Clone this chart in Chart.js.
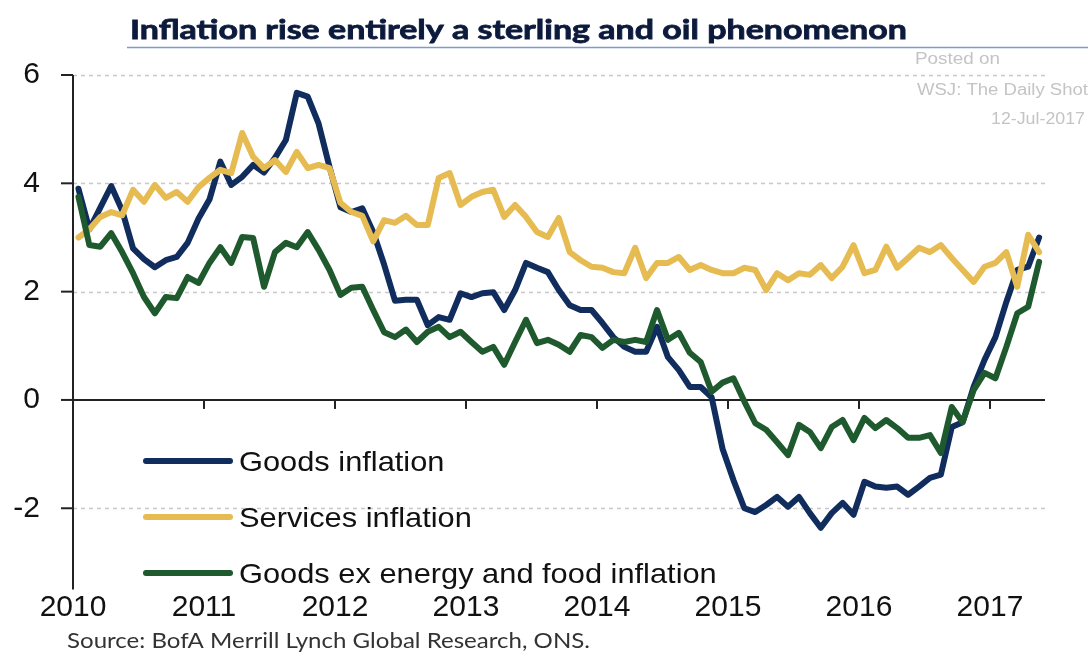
<!DOCTYPE html>
<html>
<head>
<meta charset="utf-8">
<script src="https://cdn.jsdelivr.net/npm/chart.js@4.4.0/dist/chart.umd.min.js"></script>
<style>
  html, body { margin: 0; padding: 0; background: #fff; }
  #wrap { position: relative; width: 1088px; height: 653px; }
</style>
</head>
<body>
<div id="wrap"><canvas id="chart"></canvas></div>
<script>
// UK CPI components, % y/y, monthly from Jan 2010 to May 2017
const startYear = 2010;

const goods = [
  3.9, 3.15, 3.55, 3.95, 3.5, 2.8, 2.6, 2.45, 2.58, 2.64, 2.9, 3.35,
  3.7, 4.4, 3.97, 4.12, 4.34, 4.2, 4.47, 4.8, 5.67, 5.6, 5.1, 4.3,
  3.56, 3.47, 3.54, 3.1, 2.5, 1.83, 1.85, 1.85, 1.38, 1.53, 1.48, 1.97,
  1.9, 1.97, 1.99, 1.66, 2.03, 2.53, 2.44, 2.36, 2.03, 1.75, 1.66, 1.66,
  1.42, 1.16, 0.98, 0.89, 0.89, 1.35, 0.79, 0.55, 0.24, 0.24, 0.05, -0.9,
  -1.48, -2.0, -2.07, -1.94, -1.79, -1.97, -1.79, -2.09, -2.36, -2.09, -1.9, -2.12,
  -1.51, -1.6, -1.62, -1.6, -1.75, -1.6, -1.44, -1.38, -0.5, -0.41, 0.24, 0.74,
  1.16, 1.81, 2.4, 2.46, 3.0
];

const services = [
  3.0, 3.15, 3.38, 3.47, 3.41, 3.88, 3.66, 3.97, 3.73, 3.84, 3.66, 3.93,
  4.1, 4.25, 4.19, 4.93, 4.49, 4.28, 4.43, 4.21, 4.58, 4.28, 4.34, 4.28,
  3.64, 3.47, 3.4, 2.93, 3.32, 3.27, 3.4, 3.23, 3.23, 4.1, 4.19, 3.6,
  3.75, 3.84, 3.88, 3.38, 3.6, 3.38, 3.1, 3.01, 3.36, 2.73, 2.58, 2.46,
  2.44, 2.36, 2.34, 2.81, 2.25, 2.53, 2.53, 2.64, 2.4, 2.49, 2.4, 2.34,
  2.34, 2.44, 2.4, 2.03, 2.34, 2.21, 2.34, 2.31, 2.49, 2.25, 2.46, 2.86,
  2.34, 2.4, 2.83, 2.44, 2.62, 2.81, 2.73, 2.86, 2.62, 2.4, 2.18, 2.46,
  2.53, 2.73, 2.09, 3.05, 2.73
];

const goodsExEnergyFood = [
  3.75, 2.86, 2.83, 3.08, 2.73, 2.34, 1.9, 1.6, 1.9, 1.88, 2.27, 2.16,
  2.53, 2.82, 2.53, 3.01, 2.99, 2.09, 2.73, 2.9, 2.82, 3.1, 2.77, 2.4,
  1.94, 2.07, 2.09, 1.66, 1.25, 1.16, 1.3, 1.07, 1.26, 1.35, 1.16, 1.26,
  1.07, 0.89, 0.98, 0.65, 1.07, 1.48, 1.05, 1.11, 1.02, 0.89, 1.2, 1.16,
  0.96, 1.11, 1.07, 1.11, 1.07, 1.66, 1.11, 1.24, 0.87, 0.7, 0.15, 0.32,
  0.4, -0.03, -0.43, -0.55, -0.78, -1.02, -0.46, -0.59, -0.89, -0.5, -0.37, -0.74,
  -0.33, -0.52, -0.37, -0.52, -0.7, -0.7, -0.65, -0.98, -0.13, -0.41, 0.18, 0.5,
  0.4, 0.98, 1.6, 1.72, 2.55
];

const seriesNames = ['Goods inflation', 'Services inflation', 'Goods ex energy and food inflation'];
const yearTicks = [2010, 2011, 2012, 2013, 2014, 2015, 2016, 2017];
const valueTicks = [-2, 0, 2, 4, 6];

const titleText = 'Inflation rise entirely a sterling and oil phenomenon';
const sourceText = 'Source: BofA Merrill Lynch Global Research, ONS.';
const stampLines = ['Posted on', 'WSJ: The Daily Shot', '12-Jul-2017'];

const NAVY = '#102d5e';
const GOLD = '#e6bc52';
const GREEN = '#1e5a2e';

// plot each monthly reading at mid-month
function toPoints(values) {
  return values.map((v, i) => ({ x: startYear + (i + 0.5) / 12, y: v }));
}

// draw text stretched/squeezed to a given width
function fitText(ctx, text, x, y, width, stroke) {
  const w = ctx.measureText(text).width;
  ctx.save();
  ctx.translate(x, y);
  ctx.scale(width / w, 1);
  ctx.fillText(text, 0, 0);
  if (stroke) ctx.strokeText(text, 0, 0);
  ctx.restore();
}

function stretchText(ctx, text, x, y, sx) {
  ctx.save();
  ctx.translate(x, y);
  ctx.scale(sx, 1);
  ctx.fillText(text, 0, 0);
  ctx.restore();
}

const decorations = {
  id: 'decorations',
  beforeDatasetsDraw(chart) {
    const { ctx, chartArea: a, scales: { x, y } } = chart;
    ctx.save();

    // dotted gridlines
    ctx.strokeStyle = '#c8c8c8';
    ctx.lineWidth = 1.5;
    ctx.setLineDash([4, 4]);
    valueTicks.forEach(v => {
      if (v === 0) return;
      const py = Math.round(y.getPixelForValue(v)) + 0.5;
      ctx.beginPath();
      ctx.moveTo(a.left, py);
      ctx.lineTo(a.right, py);
      ctx.stroke();
    });
    ctx.setLineDash([]);

    // y axis and its tick marks
    ctx.strokeStyle = '#222';
    ctx.lineWidth = 2;
    ctx.beginPath();
    ctx.moveTo(a.left, a.top);
    ctx.lineTo(a.left, a.bottom);
    ctx.stroke();
    valueTicks.forEach(v => {
      const py = y.getPixelForValue(v);
      ctx.beginPath();
      ctx.moveTo(a.left - 12, py);
      ctx.lineTo(a.left, py);
      ctx.stroke();
    });

    // zero line with the year ticks hanging off it
    const zy = y.getPixelForValue(0);
    ctx.beginPath();
    ctx.moveTo(a.left, zy);
    ctx.lineTo(a.right, zy);
    ctx.stroke();
    yearTicks.slice(1).forEach(yr => {
      const px = x.getPixelForValue(yr);
      ctx.beginPath();
      ctx.moveTo(px, zy);
      ctx.lineTo(px, zy + 9);
      ctx.stroke();
    });
    ctx.restore();
  },
  afterDraw(chart) {
    const ctx = chart.ctx;
    ctx.save();

    // legend inside the plot
    const colors = [NAVY, GOLD, GREEN];
    ctx.lineCap = 'round';
    ctx.lineWidth = 6;
    ctx.font = '28px "Liberation Sans", Arial, sans-serif';
    ctx.textBaseline = 'alphabetic';
    seriesNames.forEach((name, i) => {
      const ly = 461 + i * 56;
      ctx.strokeStyle = colors[i];
      ctx.beginPath();
      ctx.moveTo(146, ly);
      ctx.lineTo(230, ly);
      ctx.stroke();
      ctx.fillStyle = '#111';
      stretchText(ctx, name, 239, ly + 10, 1.1);
    });

    // title and rule
    ctx.fillStyle = '#0c1a3c';
    ctx.strokeStyle = '#0c1a3c';
    ctx.lineWidth = 0.8;
    ctx.lineCap = 'butt';
    ctx.font = 'bold 27px Lato, "Open Sans", sans-serif';
    fitText(ctx, titleText, 130, 39, 777, true);
    ctx.strokeStyle = '#7b9bd2';
    ctx.lineWidth = 1.5;
    ctx.beginPath();
    ctx.moveTo(127, 47.5);
    ctx.lineTo(1088, 47.5);
    ctx.stroke();

    // posting stamp
    ctx.fillStyle = '#c4c4c4';
    ctx.font = '16px "Liberation Sans", Arial, sans-serif';
    fitText(ctx, stampLines[0], 915, 64, 85);
    fitText(ctx, stampLines[1], 917, 95, 171);
    fitText(ctx, stampLines[2], 991, 124, 94);

    // source note
    ctx.fillStyle = '#333';
    ctx.font = '22px Lato, "Open Sans", sans-serif';
    fitText(ctx, sourceText, 67, 648, 523);

    ctx.restore();
  }
};

const ctx = document.getElementById('chart').getContext('2d');
new Chart(ctx, {
  type: 'line',
  data: {
    datasets: [
      { label: seriesNames[0], data: toPoints(goods), borderColor: NAVY, order: 3 },
      { label: seriesNames[1], data: toPoints(services), borderColor: GOLD, order: 2 },
      { label: seriesNames[2], data: toPoints(goodsExEnergyFood), borderColor: GREEN, order: 1 }
    ]
  },
  options: {
    responsive: true,
    maintainAspectRatio: false,
    animation: false,
    layout: { padding: { top: 75, right: 43, left: 0, bottom: 0 } },
    elements: {
      point: { radius: 0 },
      line: { borderWidth: 6, tension: 0, borderJoinStyle: 'round', borderCapStyle: 'round' }
    },
    plugins: {
      legend: { display: false },
      tooltip: { enabled: false }
    },
    scales: {
      x: {
        type: 'linear',
        min: 2010,
        max: 2017.42,
        grid: { display: false, drawTicks: false },
        border: { display: false },
        afterBuildTicks: s => { s.ticks = yearTicks.map(v => ({ value: v })); },
        afterFit: s => { s.height = 63.5; },
        ticks: {
          autoSkip: false,
          maxRotation: 0,
          padding: 0,
          color: '#111',
          font: { family: '"Liberation Sans", Arial, sans-serif', size: 30 },
          callback: v => String(v)
        }
      },
      y: {
        min: -3.5,
        max: 6,
        grid: { display: false, drawTicks: false },
        border: { display: false },
        afterBuildTicks: s => { s.ticks = valueTicks.map(v => ({ value: v })); },
        afterFit: s => { s.width = 73; },
        ticks: {
          padding: 33,
          color: '#111',
          font: { family: '"Liberation Sans", Arial, sans-serif', size: 30 },
          callback: v => String(v)
        }
      }
    }
  },
  plugins: [decorations]
});
</script>
</body>
</html>
